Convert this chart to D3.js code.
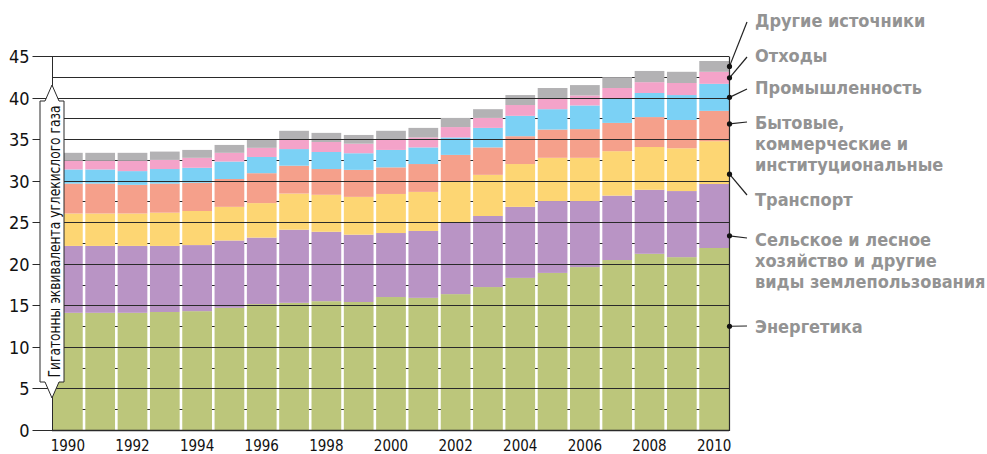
<!DOCTYPE html>
<html><head><meta charset="utf-8">
<script src="https://cdn.jsdelivr.net/npm/d3@7/dist/d3.min.js"></script>
<style>body{margin:0;background:#fff}svg{display:block}</style>
</head><body>
<svg id="c" width="987" height="454"></svg>
<script>
// ---------- DATA ----------
const years = [1990,1991,1992,1993,1994,1995,1996,1997,1998,1999,2000,2001,2002,2003,2004,2005,2006,2007,2008,2009,2010];
const energy      = [14.1,14.1,14.1,14.2,14.3,14.7,15.15,15.3,15.5,15.4,16.0,15.9,16.35,17.2,18.3,18.9,19.6,20.45,21.2,20.8,21.9];
const agriculture = [8.05,8.05,8.05,7.95,7.95,8.1,8.0,8.8,8.35,8.1,7.7,8.05,8.65,8.55,8.55,8.65,7.95,7.75,7.7,7.95,7.7];
const transport   = [3.9,3.9,3.9,4.0,4.1,4.05,4.15,4.35,4.45,4.55,4.7,4.7,4.9,4.95,5.15,5.2,5.2,5.35,5.15,5.15,5.15];
const buildings   = [3.6,3.6,3.45,3.5,3.4,3.35,3.6,3.35,3.1,3.25,3.2,3.35,3.2,3.3,3.35,3.4,3.45,3.4,3.6,3.4,3.65];
const industry    = [1.7,1.7,1.65,1.75,1.8,2.1,1.95,2.0,2.05,2.0,2.1,2.0,2.1,2.35,2.45,2.45,2.85,2.9,2.9,3.0,3.25];
const waste       = [1.05,1.05,1.25,1.1,1.2,1.05,1.1,1.1,1.2,1.15,1.2,1.2,1.25,1.2,1.3,1.35,1.2,1.3,1.3,1.45,1.45];
const other       = [0.95,0.95,0.95,1.0,0.95,0.95,1.0,1.1,1.1,1.05,1.1,1.15,1.1,1.05,1.2,1.2,1.25,1.3,1.35,1.35,1.3];

const seriesKeys = ["energy","agriculture","transport","buildings","industry","waste","other"];
const seriesLabels = [
  ["Энергетика"],
  ["Сельское и лесное","хозяйство и другие","виды землепользования"],
  ["Транспорт"],
  ["Бытовые,","коммерческие и","институциональные"],
  ["Промышленность"],
  ["Отходы"],
  ["Другие источники"]
];
const yTicks = [0,5,10,15,20,25,30,35,40,45];
const xTickYears = [1990,1992,1994,1996,1998,2000,2002,2004,2006,2008,2010];
const axisTitle = "Гигатонны эквивалента углекислого газа";

// ---------- STYLE / LAYOUT ----------
const colors = {
  energy:"#bcc67b", agriculture:"#b994c5", transport:"#fdd673",
  buildings:"#f5a08b", industry:"#7bd1f5", waste:"#f4a3c9", other:"#b3b2b4"
};
const legendLayout = {
  other:{base:27,end:22,frac:0.5}, waste:{base:62,end:57,frac:0.5},
  industry:{base:94,end:89,frac:0.5}, buildings:{base:129,end:122,frac:0.57},
  transport:{base:206,end:195,frac:0.23}, agriculture:{base:246,end:238,frac:0.19},
  energy:{base:333,end:326,frac:0.57}
};
const series = {energy,agriculture,transport,buildings,industry,waste,other};
const table = years.map((yr,i)=>{const o={year:yr}; seriesKeys.forEach(k=>o[k]=series[k][i]); return o;});

const svg = d3.select("#c");
const pL=52, pR=729, pB=430, pT=56;
const x = d3.scaleBand().domain(years).range([53,pR]).paddingInner(0.08).paddingOuter(0);
const y = d3.scaleLinear().domain([0,45]).range([pB,pT]);
const crisp = v => Math.round(v)+0.5;
const lineCol = "#2a2a2a";
const FONT = "'DejaVu Sans Condensed','DejaVu Sans',sans-serif";

// minor grid (behind bars)
svg.append("g").selectAll("line").data(d3.range(2.5,45,5)).join("line")
  .attr("x1",pL).attr("x2",pR).attr("y1",d=>crisp(y(d))).attr("y2",d=>crisp(y(d)))
  .attr("stroke",lineCol).attr("stroke-width",1);

// bars
const stacked = d3.stack().keys(seriesKeys)(table);
svg.append("g").selectAll("g").data(stacked).join("g")
  .attr("fill",d=>colors[d.key])
  .selectAll("rect").data(d=>d).join("rect")
  .attr("x",d=>x(d.data.year)).attr("width",x.bandwidth())
  .attr("y",d=>y(d[1])).attr("height",d=>y(d[0])-y(d[1]));

// major grid (over bars)
svg.append("g").selectAll("line").data(yTicks).join("line")
  .attr("x1",pL).attr("x2",pR).attr("y1",d=>crisp(y(d))).attr("y2",d=>crisp(y(d)))
  .attr("stroke",lineCol).attr("stroke-width",d=>d===0?1.6:1);

// y axis
const yAxis = svg.append("g").attr("transform",`translate(${pL+0.5},0)`)
  .call(d3.axisLeft(y).tickValues(yTicks).tickSize(20).tickSizeOuter(0).tickPadding(3));
yAxis.select(".domain").attr("stroke",lineCol).attr("d",`M0,${y(45)}V${y(0)}`);
yAxis.selectAll(".tick line").attr("stroke",lineCol);
yAxis.selectAll(".tick text").attr("font-family",FONT)
  .attr("font-size",18).attr("fill","#111").attr("dy","0.36em");
yAxis.selectAll(".tick").attr("transform",d=>`translate(0,${crisp(y(d))})`);

// right frame
svg.append("line").attr("x1",pR+0.5).attr("x2",pR+0.5).attr("y1",crisp(y(45))).attr("y2",pB+1)
  .attr("stroke",lineCol).attr("stroke-width",1.2);

// x axis labels
const xAxis = svg.append("g").attr("transform",`translate(0,${pB})`)
  .call(d3.axisBottom(x).tickValues(xTickYears).tickSize(0).tickPadding(10));
xAxis.select(".domain").remove();
xAxis.selectAll(".tick text").attr("font-family",FONT)
  .attr("font-size",15).attr("fill","#111");

// axis title box
const bx0=40, bx1=64, cx=52, topApex=85, topSh=101, botSh=382, botApex=398;
svg.append("path")
  .attr("d",`M${bx0},${topSh}H${cx-7}L${cx},${topApex}L${cx+7},${topSh}H${bx1}V${botSh}H${cx+7}L${cx},${botApex}L${cx-7},${botSh}H${bx0}Z`)
  .attr("fill","#fff").attr("stroke",lineCol).attr("stroke-width",1);
svg.append("text").attr("transform",`translate(59.5,${(topSh+botSh)/2}) rotate(-90)`)
  .attr("text-anchor","middle").attr("font-family",FONT)
  .attr("font-size",15).attr("fill","#111")
  .attr("textLength",272).attr("lengthAdjust","spacingAndGlyphs").text(axisTitle);

// legend with leaders
const last = table.length-1;
const lg = svg.append("g");
stacked.forEach((s,i)=>{
  const k = s.key, L = legendLayout[k];
  const d = s[last];
  const dy = y(d[0] + (d[1]-d[0])*L.frac);
  lg.append("line").attr("x1",pR+0.5).attr("y1",dy).attr("x2",747).attr("y2",L.end)
    .attr("stroke","#222").attr("stroke-width",1.2);
  lg.append("circle").attr("cx",pR+0.5).attr("cy",dy).attr("r",2.6).attr("fill","#111");
  const t = lg.append("text").attr("x",755).attr("y",L.base)
    .attr("font-family",FONT)
    .attr("font-weight","bold").attr("font-size",18).attr("fill","#939393");
  seriesLabels[i].forEach((ln,j)=>t.append("tspan").attr("x",755).attr("dy",j?21:0).text(ln));
});
</script>
</body></html>
